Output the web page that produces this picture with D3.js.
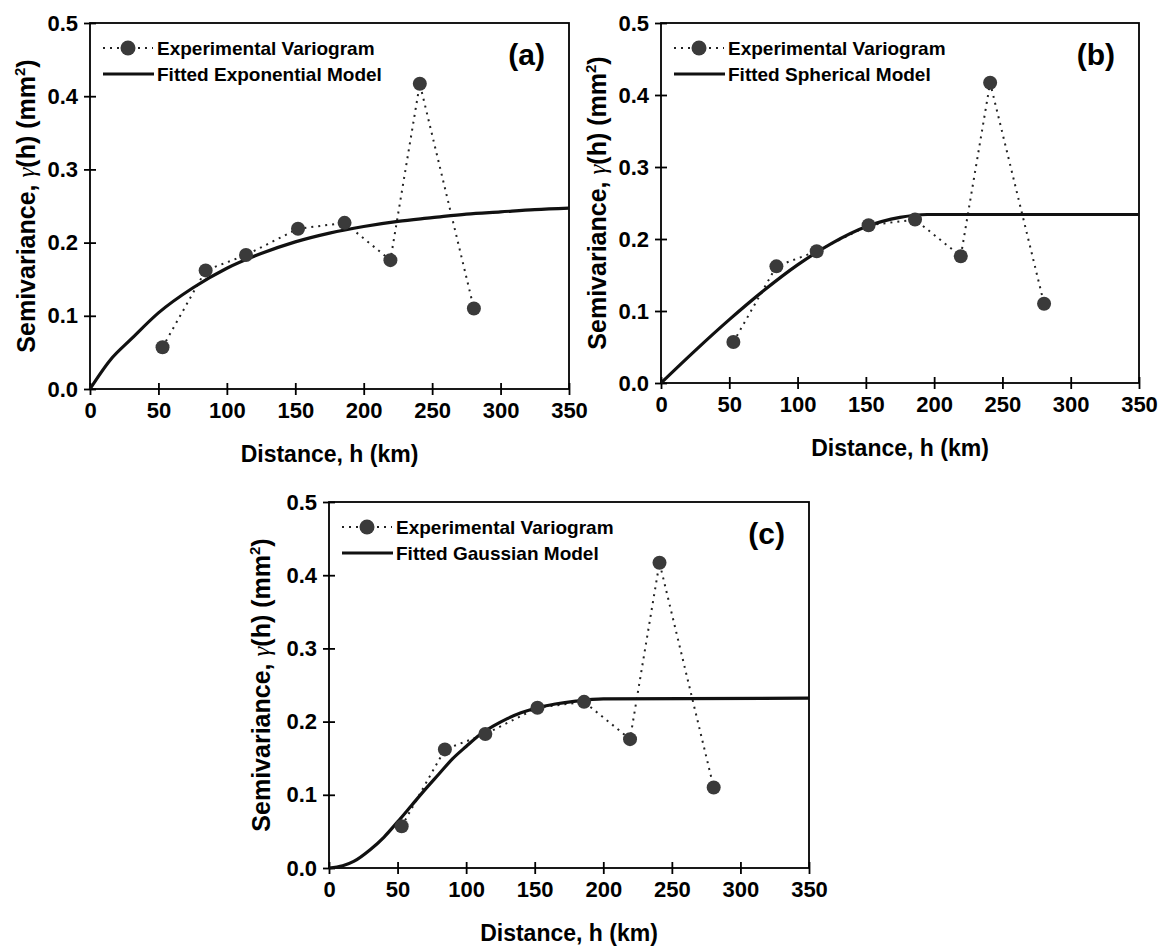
<!DOCTYPE html>
<html>
<head>
<meta charset="utf-8">
<script src="https://cdn.jsdelivr.net/npm/d3@7"></script>
<style>
  body { margin: 0; background: #fff; }
  svg text { font-family: "Liberation Sans", Arial, sans-serif; font-weight: bold; fill: #000; }
</style>
</head>
<body>
<svg id="chart" width="1166" height="946"></svg>
<script>
// experimental variogram (same in all three panels)
let lagKm = [53, 84.5, 114, 152, 186, 219.5, 241, 280.5]
let semivar = [0.057, 0.162, 0.183, 0.219, 0.227, 0.176, 0.417, 0.110]

// fitted models
let expH = [0, 15, 30, 50, 75, 100, 125, 150, 175, 200, 225, 250, 275, 300, 325, 350]
let expG = [0, 0.040, 0.068, 0.104, 0.138, 0.165, 0.185, 0.201, 0.213, 0.222, 0.229, 0.234, 0.239, 0.242, 0.245, 0.247]
let sphH = [0, 25, 50, 75, 100, 125, 150, 175, 195, 350]
let sphG = [0, 0.045, 0.088, 0.128, 0.164, 0.194, 0.217, 0.230, 0.234, 0.234]
let gauH = [0, 10, 18, 30, 40, 50, 60, 70, 80, 90, 100, 110, 120, 130, 140, 150, 165, 180, 200, 350]
let gauG = [0, 0.003, 0.009, 0.025, 0.042, 0.063, 0.085, 0.107, 0.128, 0.149, 0.166, 0.182, 0.194, 0.204, 0.212, 0.218, 0.224, 0.228, 0.231, 0.232]

let xTicks = [0, 50, 100, 150, 200, 250, 300, 350]
let yTicks = [0, 0.1, 0.2, 0.3, 0.4, 0.5]
let panelTags = ["(a)", "(b)", "(c)"]
let modelNames = ["Fitted Exponential Model", "Fitted Spherical Model", "Fitted Gaussian Model"]

let models = [
  expH.map((h, i) => [h, expG[i]]),
  sphH.map((h, i) => [h, sphG[i]]),
  gauH.map((h, i) => [h, gauG[i]])
]
let points = lagKm.map((h, i) => [h, semivar[i]])

// panel boxes (pixel layout)
let boxes = [
  { left: 90, right: 569, top: 23, bottom: 389, ylab: -55 },
  { left: 661, right: 1139, top: 23, bottom: 383, ylab: -55 },
  { left: 329, right: 809, top: 502, bottom: 868, ylab: -59 }
]

let svg = d3.select("#chart")

boxes.forEach((p, k) => {
  let w = p.right - p.left
  let h = p.bottom - p.top
  let g = svg.append("g").attr("transform", `translate(${p.left},${p.top})`)

  let xScale = d3.scaleLinear().domain([0, 350]).range([0, w])
  let yScale = d3.scaleLinear().domain([0, 0.5]).range([h, 0])

  g.append("g")
    .call(d3.axisLeft(yScale).tickValues(yTicks).tickFormat(d3.format(".1f")).tickSize(6).tickPadding(6))
    .call(a => a.select(".domain").remove())
    .call(a => a.selectAll(".tick line").attr("x1", 6).attr("stroke-width", 1.8))
    .call(a => a.selectAll(".tick text").style("font-size", "22px"))

  g.append("g")
    .attr("transform", `translate(0,${h})`)
    .call(d3.axisBottom(xScale).tickValues(xTicks).tickSize(6).tickPadding(7))
    .call(a => a.select(".domain").remove())
    .call(a => a.selectAll(".tick line").attr("y1", -6).attr("stroke-width", 1.8))
    .call(a => a.selectAll(".tick text").style("font-size", "22px"))

  g.append("rect")
    .attr("width", w).attr("height", h)
    .attr("fill", "none").attr("stroke", "#000").attr("stroke-width", 1.8)

  let line = d3.line().x(d => xScale(d[0])).y(d => yScale(d[1]))

  g.append("path")
    .datum(points)
    .attr("d", line)
    .attr("fill", "none").attr("stroke", "#222")
    .attr("stroke-width", 2).attr("stroke-dasharray", "2,5")

  g.append("path")
    .datum(models[k])
    .attr("d", line.curve(d3.curveMonotoneX))
    .attr("fill", "none").attr("stroke", "#111").attr("stroke-width", 3.2)

  g.selectAll("circle.pt")
    .data(points)
    .enter()
    .append("circle")
    .attr("class", "pt")
    .attr("cx", d => xScale(d[0]))
    .attr("cy", d => yScale(d[1]))
    .attr("r", 7)
    .attr("fill", "#3a3a3a")

  // legend
  let leg = g.append("g")
  leg.append("line").attr("x1", 13).attr("x2", 63).attr("y1", 25).attr("y2", 25)
    .attr("stroke", "#222").attr("stroke-width", 2).attr("stroke-dasharray", "2,5")
  leg.append("circle").attr("cx", 38).attr("cy", 25).attr("r", 7.5).attr("fill", "#3a3a3a")
  leg.append("text").attr("x", 67).attr("y", 32).style("font-size", "19px").text("Experimental Variogram")
  leg.append("line").attr("x1", 13).attr("x2", 64).attr("y1", 51).attr("y2", 51)
    .attr("stroke", "#111").attr("stroke-width", 3.2)
  leg.append("text").attr("x", 67).attr("y", 58).style("font-size", "19px").text(modelNames[k])

  g.append("text")
    .attr("x", w - 24).attr("y", 42)
    .attr("text-anchor", "end").style("font-size", "30px")
    .text(panelTags[k])

  g.append("text")
    .attr("x", w / 2).attr("y", h + 73)
    .attr("text-anchor", "middle").style("font-size", "23px")
    .text("Distance, h (km)")

  let yl = g.append("text")
    .attr("transform", `translate(${p.ylab},${h / 2}) rotate(-90)`)
    .attr("text-anchor", "middle").style("font-size", "25px")
  yl.append("tspan").text("Semivariance, ")
  yl.append("tspan")
    .style("font-weight", "normal").style("font-style", "italic")
    .style("font-family", "'Liberation Serif', serif")
    .text("γ")
  yl.append("tspan").text("(h) (mm")
  yl.append("tspan").attr("dy", -10).style("font-size", "15px").text("2")
  yl.append("tspan").attr("dy", 10).text(")")
})
</script>
</body>
</html>
